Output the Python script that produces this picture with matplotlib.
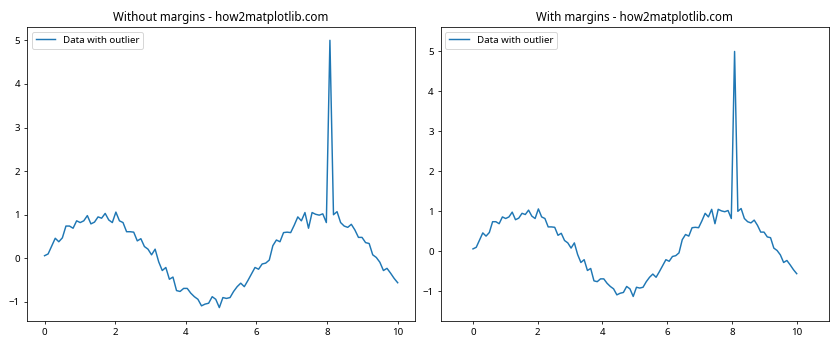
import numpy as np
import matplotlib.pyplot as plt

plt.rcParams['font.family'] = ['Noto Sans', 'DejaVu Sans']

# 100 samples between 0 and 10, one outlier at index 80
x = np.linspace(0, 10, 100)
y = [0.06, 0.10, 0.28, 0.46, 0.38, 0.47, 0.74, 0.74, 0.69, 0.86,
     0.82, 0.86, 0.98, 0.79, 0.83, 0.95, 0.92, 1.03, 0.88, 0.82,
     1.06, 0.86, 0.82, 0.61, 0.61, 0.60, 0.40, 0.45, 0.27, 0.21,
     0.08, 0.21, -0.08, -0.28, -0.21, -0.48, -0.43, -0.74, -0.76, -0.69,
     -0.69, -0.80, -0.88, -0.94, -1.09, -1.05, -1.03, -0.88, -0.94, -1.13,
     -0.90, -0.92, -0.90, -0.76, -0.65, -0.57, -0.65, -0.51, -0.36, -0.21,
     -0.25, -0.13, -0.11, -0.04, 0.29, 0.42, 0.38, 0.59, 0.60, 0.59,
     0.76, 0.95, 0.86, 1.05, 0.69, 1.05, 1.01, 0.99, 1.02, 0.82,
     5.00, 1.00, 1.07, 0.82, 0.74, 0.71, 0.78, 0.65, 0.48, 0.48,
     0.36, 0.34, 0.08, 0.02, -0.09, -0.28, -0.23, -0.34, -0.46, -0.56]

fig, (ax1, ax2) = plt.subplots(1, 2, figsize=(12, 5), dpi=70)

# 左图：默认边距
ax1.plot(x, y, label='Data with outlier')
ax1.set_title('Without margins - how2matplotlib.com')
ax1.legend(loc='upper left')

# 右图：加大边距
ax2.plot(x, y, label='Data with outlier')
ax2.margins(0.1)
ax2.set_title('With margins - how2matplotlib.com')
ax2.legend(loc='upper left')

plt.subplots_adjust(left=0.032, right=0.987, bottom=0.083, top=0.923, wspace=0.065)
plt.savefig('out.png')
